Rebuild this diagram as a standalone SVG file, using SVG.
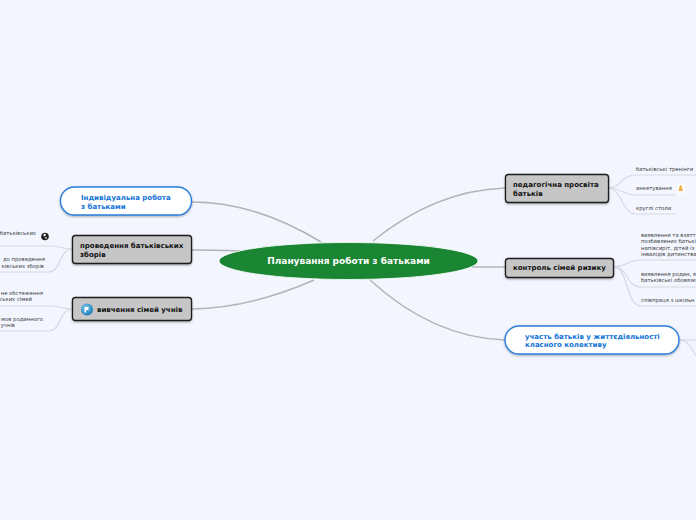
<svg xmlns="http://www.w3.org/2000/svg" width="696" height="520" viewBox="0 0 696 520">
<defs>
<filter id="sh" x="-10%" y="-20%" width="120%" height="150%"><feDropShadow dx="0" dy="1" stdDeviation="1" flood-color="#000" flood-opacity=".35"/></filter>
<radialGradient id="blue" cx=".4" cy=".35" r=".7"><stop offset="0" stop-color="#7fc8ee"/><stop offset="1" stop-color="#1478b8"/></radialGradient>
</defs>
<style>
text{font-family:"DejaVu Sans",Verdana,sans-serif}
.main{fill:none;stroke:#b4b4b8;stroke-width:1.5}
.sub{fill:none;stroke:#d6d8e2;stroke-width:1.2}
.grey{fill:#c6c6c6;stroke:#1c1c1c;stroke-width:1.3;filter:url(#sh)}
.white{fill:#fff;stroke:#2a7fdc;stroke-width:1.4;filter:url(#sh)}
.gt{font-size:7px;font-weight:700;fill:#111}
.bt{font-size:7px;font-weight:700;fill:#0f73d8}
.lf{font-size:5.300px;fill:#3a3a3a}
</style>
<rect width="696" height="520" fill="#f3f6ff"/>
<g id="connectors">
<path class="main" d="M192 202C240 202 285 220 321 242"/>
<path class="main" d="M192 250C210 250 225 250 240 251"/>
<path class="main" d="M192 309C240 308 280 295 314 280"/>
<path class="main" d="M505 188C450 190 405 215 373 241"/>
<path class="main" d="M472 267L506 267"/>
<path class="main" d="M505 340C450 338 405 312 370 280"/>
<path class="sub" d="M72 249C62 249 60 246 50 246L0 246"/>
<path class="sub" d="M72 249C58 250 62 272 48 272L0 272"/>
<path class="sub" d="M72 309C62 309 60 306 50 306L0 306"/>
<path class="sub" d="M72 309C58 310 62 331 48 331L0 331"/>
<path class="sub" d="M608 188C622 188 620 175 636 175L696 175"/>
<path class="sub" d="M608 188C622 188 622 195 636 195L676 195"/>
<path class="sub" d="M608 188C622 188 622 214 636 214L676 214"/>
<path class="sub" d="M614 267C628 267 626 260 641 260L696 260"/>
<path class="sub" d="M614 267C628 267 626 287 641 287L696 287"/>
<path class="sub" d="M614 267C628 267 626 306 641 306L696 306"/>
<path class="sub" d="M680 340L696 340"/>
<path class="sub" d="M680 340C690 341 692 350 696 356"/>
</g>
<g id="root"><ellipse cx="348.500" cy="261" rx="129.500" ry="18.500" fill="#1a8533" stroke="#fff" stroke-width=".8"/>
<text x="348.500" y="264" text-anchor="middle" font-size="9" font-weight="700" fill="#fff">Планування роботи з батьками</text></g>
<g id="n-individual"><rect class="white" x="60.500" y="187" width="131" height="28" rx="14"/>
<text class="bt" x="81" y="200">Індивідуальна робота</text><text class="bt" x="81" y="208.500">з батьками</text></g>
<g id="n-meetings"><rect class="grey" x="72.500" y="235.500" width="119" height="28" rx="3"/>
<text class="gt" x="80" y="248">проведення батьківських</text><text class="gt" x="80" y="256.500">зборів</text></g>
<g id="n-study"><rect class="grey" x="72.500" y="297.500" width="119" height="23" rx="3"/>
<circle cx="87" cy="309.500" r="6" fill="url(#blue)"/><path d="M84.500 307h4.500l-1 1.500 1 1.500h-3v2.500h-1.500z" fill="#fff"/>
<text class="gt" x="97" y="312">вивчення сімей учнів</text></g>
<g id="n-edu"><rect class="grey" x="505.500" y="174.500" width="103" height="28" rx="3"/>
<text class="gt" x="513" y="187">педагогічна просвіта</text><text class="gt" x="513" y="195.500">батьків</text></g>
<g id="n-control"><rect class="grey" x="505.500" y="258.500" width="108" height="19" rx="3"/>
<text class="gt" x="513" y="270">контроль сімей ризику</text></g>
<g id="n-part"><rect class="white" x="505" y="326" width="174" height="28" rx="14"/>
<text class="bt" x="525" y="338.500">участь батьків у життєдіяльності</text><text class="bt" x="525" y="347">класного колективу</text></g>
<g id="l-meet1"><text class="lf" x="36" y="235" text-anchor="end">батьківських</text>
<circle cx="45" cy="236.500" r="3.800" fill="#222"/><path d="M43 235l2-1.500 1 1.500-1.500 1.500zM45 237l2 .5-1 2z" fill="#fff"/></g>
<g id="l-meet2"><text class="lf" x="45" y="261" text-anchor="end">до проведення</text><text class="lf" x="44" y="268" text-anchor="end">ківських зборів</text></g>
<g id="l-study1"><text class="lf" x="43" y="295" text-anchor="end">не обстеження</text><text class="lf" x="32" y="301" text-anchor="end">ських сімей</text></g>
<g id="l-study2"><text class="lf" x="43" y="321" text-anchor="end">мов родинного</text><text class="lf" x="15" y="327" text-anchor="end">учнів</text></g>
<g id="l-edu1"><text class="lf" x="636" y="171">батьківські тренінги</text></g>
<g id="l-edu2"><text class="lf" x="636" y="190">анкетування</text><rect x="677" y="184" width="8" height="9" rx="2" fill="#fff"/><path d="M680.700 185a1 1 0 0 1 1 1l1.300 5h-4.600l1.300-5a1 1 0 0 1 1-1z" fill="#f2b14a"/></g>
<g id="l-edu3"><text class="lf" x="636" y="210">круглі столи</text></g>
<g id="l-ctl1"><text class="lf" x="641" y="237">виявлення та взятт</text><text class="lf" x="641" y="243">позбавлених батькі</text><text class="lf" x="641" y="250">напівсиріт, дітей із</text><text class="lf" x="641" y="256">інвалідів дитинства</text></g>
<g id="l-ctl2"><text class="lf" x="641" y="276">виявлення родин, я</text><text class="lf" x="641" y="282">батьківські обовязк</text></g>
<g id="l-ctl3"><text class="lf" x="641" y="302">співпраця з шкільн</text></g>
</svg>
